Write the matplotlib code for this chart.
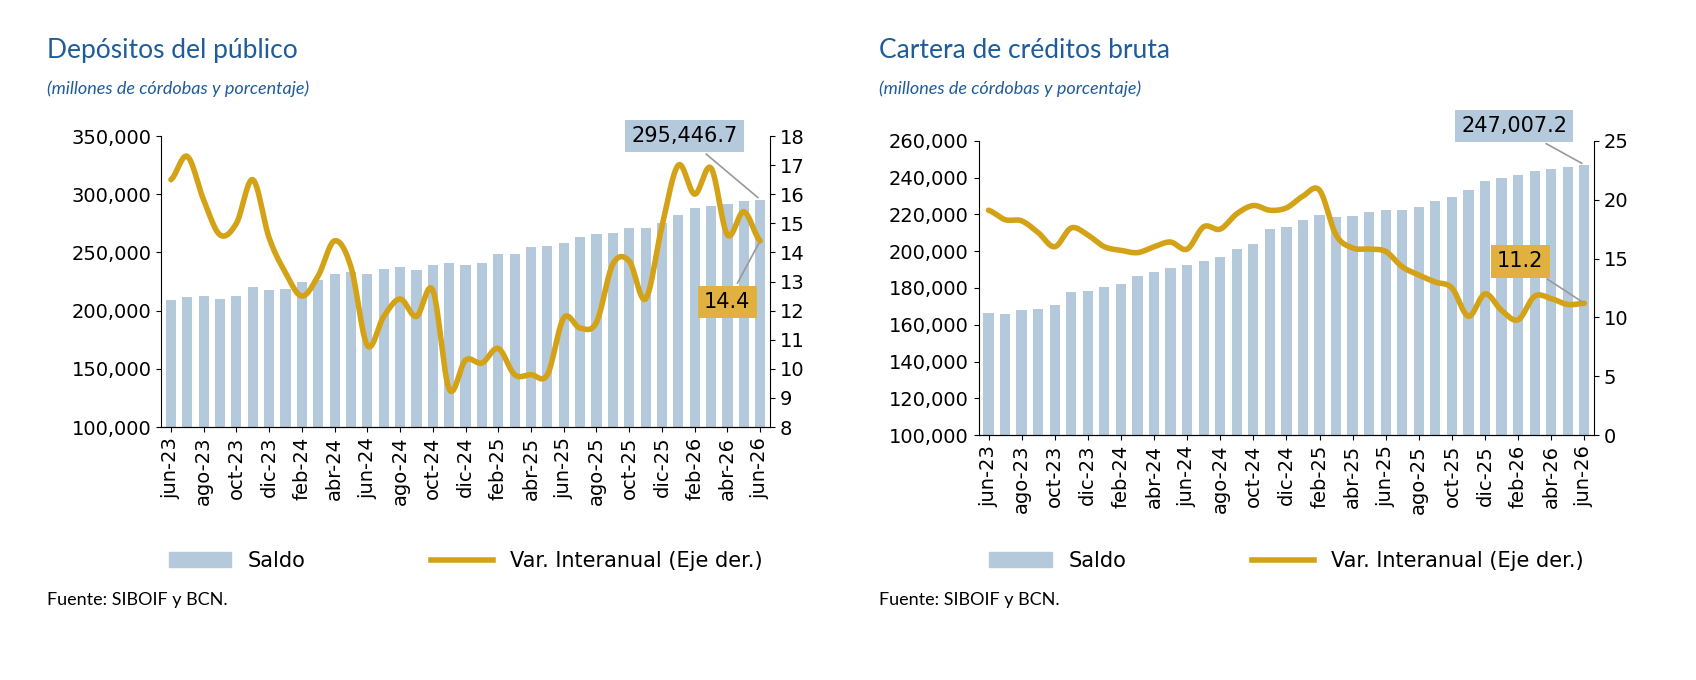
import matplotlib
matplotlib.use("Agg")
import matplotlib.pyplot as plt
import numpy as np
from matplotlib.patches import Patch
from matplotlib.lines import Line2D

months = ["jun-23","jul-23","ago-23","sep-23","oct-23","nov-23","dic-23","ene-24","feb-24","mar-24","abr-24","may-24",
          "jun-24","jul-24","ago-24","sep-24","oct-24","nov-24","dic-24","ene-25","feb-25","mar-25","abr-25","may-25",
          "jun-25","jul-25","ago-25","sep-25","oct-25","nov-25","dic-25","ene-26","feb-26","mar-26","abr-26","may-26","jun-26"]

dep_saldo = [209.2,211.4,212.6,210.0,212.6,220.6,217.4,218.8,224.5,226.2,231.4,232.8,231.4,235.9,237.9,234.8,238.8,240.5,
             239.6,241.3,248.4,248.4,254.4,255.8,258.4,263.5,265.8,266.6,270.6,270.6,275.5,282.3,288.0,290.3,291.4,294.5,295.4467]
dep_var = [16.5,17.3,15.8,14.6,15.0,16.5,14.5,13.3,12.5,13.2,14.4,13.5,10.8,11.8,12.4,11.8,12.7,9.3,10.3,10.2,10.7,9.8,
           9.8,9.8,11.75,11.4,11.6,13.6,13.7,12.4,14.9,17.0,16.0,16.9,14.6,15.4,14.4]

cred_saldo = [166.2,165.9,167.9,168.8,170.8,177.6,178.5,180.3,181.9,186.7,188.7,191.1,192.7,194.9,197.1,201.3,203.9,211.9,
              213.0,216.9,219.6,218.5,219.0,221.4,222.5,222.5,224.0,227.1,229.3,233.3,238.2,239.9,241.2,243.5,244.5,245.5,247.0072]
cred_var = [19.1,18.3,18.2,17.2,16.0,17.6,17.0,16.0,15.7,15.5,16.0,16.4,15.8,17.7,17.5,18.8,19.5,19.1,19.3,20.3,20.8,17.0,
            15.9,15.8,15.6,14.3,13.6,13.0,12.5,10.1,12.0,10.6,9.8,11.8,11.6,11.1,11.2]

BAR = "#b4c9db"
GOLD = "#d4a216"
BLUE = "#1f5c99"
plt.rcParams['font.family'] = ['DejaVu Sans']

fig = plt.figure(figsize=(16.96, 6.8), dpi=100)

def smooth(y, n=12):
    # Catmull-Rom curve through the data points (display smoothing only)
    y = np.asarray(y, float)
    p = np.concatenate([[y[0]], y, [y[-1]]])
    xs, ys = [], []
    t = np.linspace(0, 1, n, endpoint=False)
    for i in range(len(y) - 1):
        p0, p1, p2, p3 = p[i], p[i + 1], p[i + 2], p[i + 3]
        seg = 0.5 * ((2 * p1) + (-p0 + p2) * t + (2 * p0 - 5 * p1 + 4 * p2 - p3) * t ** 2 + (-p0 + 3 * p1 - 3 * p2 + p3) * t ** 3)
        xs.append(i + t); ys.append(seg)
    xs.append([len(y) - 1]); ys.append([y[-1]])
    return np.concatenate(xs), np.concatenate(ys)

def panel(rect, title, tx, saldo, var, ylim, yticks, y2lim, y2ticks, lab1, lab1pos, lab2, lab2pos, legy):
    ax = fig.add_axes(rect)
    x = np.arange(len(months))
    ax.bar(x, np.array(saldo) * 1000, width=0.62, color=BAR, zorder=1)
    ax.set_ylim(*ylim)
    ax.set_yticks(yticks)
    ax.set_yticklabels([f"{v:,.0f}" for v in yticks], fontsize=14)
    ax.set_xlim(-0.6, len(months) - 0.4)
    ax.set_xticks(x[::2])
    ax.set_xticklabels(months[::2], rotation=90, fontsize=14)
    for s in ["top", "right"]:
        ax.spines[s].set_visible(False)
    ax2 = ax.twinx()
    sx, sy = smooth(var)
    ax2.plot(sx, sy, color=GOLD, lw=4, solid_capstyle="round", zorder=3)
    ax2.set_ylim(*y2lim)
    ax2.set_yticks(y2ticks)
    ax2.tick_params(labelsize=14)
    for s in ["top", "left"]:
        ax2.spines[s].set_visible(False)
    ax.annotate(lab1, xy=(x[-1], saldo[-1] * 1000), xycoords="data", xytext=lab1pos, textcoords="axes fraction",
                fontsize=15, ha="center", va="center",
                bbox=dict(boxstyle="square,pad=0.3", fc=BAR, ec="none"),
                arrowprops=dict(arrowstyle="-", color="#999999", lw=1.2), zorder=5)
    ax2.annotate(lab2, xy=(x[-1], var[-1]), xycoords="data", xytext=lab2pos, textcoords="axes fraction",
                 fontsize=15, ha="center", va="center",
                 bbox=dict(boxstyle="square,pad=0.3", fc="#e0b13e", ec="none"),
                 arrowprops=dict(arrowstyle="-", color="#999999", lw=1.2), zorder=5)
    fig.text(tx, 0.915, title, fontsize=19, color=BLUE, family="Lato")
    fig.text(tx, 0.862, "(millones de córdobas y porcentaje)", fontsize=13, color=BLUE, style="italic", family="Lato")
    fig.text(tx, 0.11, "Fuente: SIBOIF y BCN.", fontsize=13, family="Lato")
    h = [Patch(color=BAR), Line2D([0], [0], color=GOLD, lw=4)]
    fig.legend(h, ["Saldo", "Var. Interanual (Eje der.)"], loc="center",
               bbox_to_anchor=(rect[0] + rect[2] / 2, legy), ncol=2, frameon=False, fontsize=15,
               columnspacing=6, handlelength=3)

panel([0.095, 0.372, 0.359, 0.428], "Depósitos del público", 0.028, dep_saldo, dep_var,
      (100000, 350000), list(range(100000, 350001, 50000)), (8, 18), list(range(8, 19)),
      "295,446.7", (0.86, 1.0), "14.4", (0.93, 0.43), 0.175)
panel([0.577, 0.36, 0.363, 0.433], "Cartera de créditos bruta", 0.518, cred_saldo, cred_var,
      (100000, 260000), list(range(100000, 260001, 20000)), (0, 25), list(range(0, 26, 5)),
      "247,007.2", (0.87, 1.05), "11.2", (0.88, 0.59), 0.175)

fig.savefig("out.png", dpi=100)
